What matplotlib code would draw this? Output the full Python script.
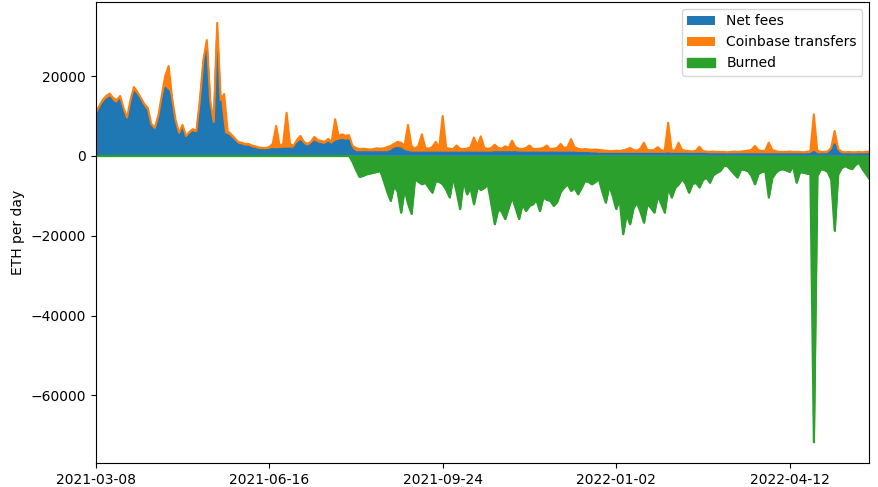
import matplotlib
matplotlib.use("Agg")
import matplotlib.pyplot as plt
import numpy as np
import pandas as pd

# daily series sampled every 2nd day, starting 2021-03-08
start_date = "2021-03-08"
step_days = 2

net_fees = [
    9800, 11500, 13000, 14000, 14600, 13500, 13000, 14000, 11000, 8700,
    13000, 16000, 15000, 13500, 12000, 11000, 7200, 6300, 9000, 13000,
    17000, 16250, 13000, 8000, 5000, 6900, 4300, 5200, 5900, 5500,
    12500, 22800, 28000, 12700, 7600, 31000, 12800, 5500, 5200, 4500,
    3700, 2800, 2600, 2300, 2300, 1900, 1700, 1500, 1400, 1400,
    1500, 1700, 1600, 1700, 1800, 1800, 1800, 1800, 3000, 3700,
    2700, 2300, 2700, 3600, 3100, 2900, 2700, 3300, 2700, 3500,
    3800, 4000, 3800, 3900, 1500, 900, 900, 900, 900, 900,
    900, 900, 900, 900, 900, 1200, 1800, 2000, 1800, 1200,
    1000, 800, 800, 800, 800, 800, 800, 800, 800, 800,
    800, 800, 800, 800, 800, 800, 800, 800, 800, 800,
    800, 800, 800, 800, 800, 900, 900, 900, 900, 900,
    900, 900, 800, 800, 800, 800, 800, 800, 800, 800,
    800, 800, 800, 800, 800, 800, 800, 800, 800, 700,
    700, 700, 700, 600, 600, 500, 500, 500, 500, 500,
    500, 500, 500, 500, 500, 500, 500, 500, 500, 500,
    500, 500, 500, 500, 500, 600, 500, 500, 500, 500,
    500, 500, 500, 500, 500, 500, 500, 400, 400, 400,
    400, 400, 400, 400, 400, 400, 400, 400, 400, 400,
    400, 400, 400, 400, 400, 400, 400, 400, 400, 400,
    400, 400, 400, 400, 400, 400, 400, 1000, 400, 400,
    400, 400, 1200, 2900, 1000, 400, 400, 400, 400, 400,
    400, 400, 400, 400,
]

coinbase = [
    1000, 1000, 1000, 1000, 1000, 1000, 1000, 1000, 1000, 900,
    1000, 1250, 1000, 1000, 1000, 1000, 800, 700, 1000, 2000,
    3000, 6250, 1500, 1000, 800, 850, 700, 800, 800, 750,
    1500, 1200, 1000, 1050, 900, 2300, 1200, 10000, 1050, 900,
    800, 700, 700, 700, 700, 700, 700, 600, 600, 600,
    700, 1300, 5900, 800, 1200, 9000, 1200, 700, 1000, 1300,
    800, 700, 800, 1150, 900, 850, 800, 950, 800, 5700,
    1200, 1400, 1200, 1300, 1000, 1100, 800, 900, 800, 700,
    800, 1000, 900, 1000, 1300, 1300, 1200, 1500, 1500, 1300,
    6750, 1700, 1000, 1700, 4600, 1200, 1000, 1400, 2700, 1200,
    9200, 1200, 1000, 900, 1800, 1000, 900, 1000, 1400, 3800,
    1700, 4100, 1200, 900, 1200, 1900, 1100, 900, 1500, 1100,
    2900, 1300, 1000, 900, 1200, 1800, 1000, 900, 1000, 1200,
    1800, 900, 1000, 1200, 2200, 1200, 1400, 3400, 1400, 1100,
    900, 1000, 900, 900, 1000, 1000, 900, 800, 700, 700,
    800, 700, 900, 1100, 1500, 1000, 800, 1300, 2800, 1000,
    900, 1000, 1700, 900, 800, 7700, 1000, 800, 2800, 1000,
    800, 700, 600, 800, 1800, 700, 600, 600, 700, 600,
    600, 600, 500, 600, 700, 600, 700, 800, 900, 1100,
    2100, 1100, 800, 900, 2900, 1100, 800, 600, 600, 600,
    700, 600, 600, 600, 500, 600, 800, 9400, 900, 600,
    600, 700, 800, 3350, 800, 600, 500, 600, 500, 500,
    600, 500, 600, 700,
]

# nothing burned before the London fork
burned = [0] * 74 + [
    -1500, -3500, -5250, -5000, -4600, -4400, -4200, -4000, -3750, -6250,
    -9000, -11250, -7500, -9000, -14200, -8300, -12000, -14500, -5800, -6500,
    -7100, -6700, -8000, -9200, -6250, -6500, -7100, -8500, -10400, -5400,
    -9000, -13300, -6250, -9600, -8000, -12100, -7900, -8500, -8000, -7100,
    -12000, -17100, -13300, -14000, -15800, -13000, -10400, -13000, -15800, -12100,
    -13800, -12500, -12100, -11000, -13800, -10400, -11000, -11250, -12500, -11500,
    -9000, -7900, -7100, -8750, -8000, -9600, -8000, -6250, -6500, -7100,
    -6500, -5800, -9000, -11700, -7500, -10000, -13300, -10800, -19600, -14600,
    -17100, -13000, -11700, -14000, -16700, -12000, -13000, -14200, -10000, -12000,
    -14200, -7900, -10400, -8000, -7100, -5800, -7000, -9200, -7000, -6700,
    -7900, -6000, -5400, -6700, -4800, -4200, -3750, -2500, -2500, -3500,
    -4500, -5400, -3300, -3500, -3800, -5000, -7100, -4500, -4000, -3800,
    -10400, -5500, -4200, -3500, -3300, -3600, -4000, -2500, -6700, -4000,
    -4200, -4400, -4600, -71700, -5000, -3300, -3500, -4000, -6000, -18750,
    -4600, -3000, -2500, -3000, -3300, -2200, -1700, -3300, -4500, -5750,
]

labels = ["Net fees", "Coinbase transfers", "Burned"]
tick_days = [0, 100, 200, 300, 400]

days = np.arange(len(net_fees)) * step_days
dates = pd.to_datetime(start_date) + pd.to_timedelta(tick_days, unit="D")
tick_labels = [d.strftime("%Y-%m-%d") for d in dates]

net = np.array(net_fees)
top = net + np.array(coinbase)

fig = plt.figure(figsize=(8.79, 4.87), dpi=100)
ax = fig.add_axes([0.109, 0.049, 0.88, 0.947])

# filled areas (like pandas area plot: fill + a line on each layer's edge)
handles = ax.stackplot(days, net_fees, coinbase, labels=labels[:2],
                       colors=["C0", "C1"])
handles.append(ax.fill_between(days, burned, 0, color="C2", label=labels[2]))
ax.plot(days, net, color="C0", lw=1.5)
ax.plot(days, top, color="C1", lw=1.5)
ax.plot(days, burned, color="C2", lw=1.5)

ax.set_xlim(days[0], days[-1])
ax.set_xticks(tick_days)
ax.set_xticklabels(tick_labels)
ax.set_ylabel("ETH per day")
ax.legend(handles=handles, labels=labels, loc="upper right")

fig.savefig("out.png", dpi=100)
